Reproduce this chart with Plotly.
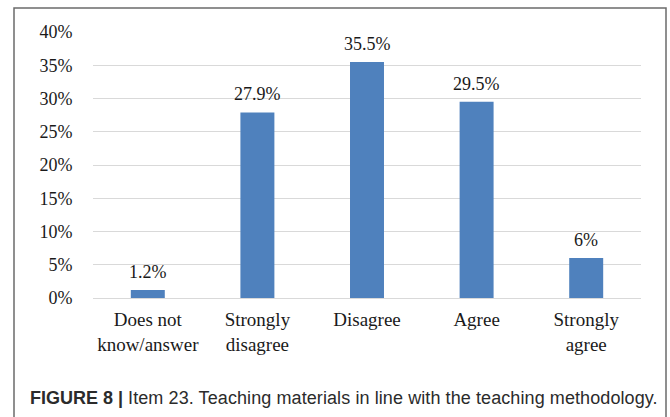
import plotly.graph_objects as go

# Survey responses for item 23
categories = ["Does not<br>know/answer", "Strongly<br>disagree", "Disagree", "Agree", "Strongly<br>agree"]
percentages = [1.2, 27.9, 35.5, 29.5, 6.0]
y_ticks = [0, 5, 10, 15, 20, 25, 30, 35, 40]
y_tick_labels = [f"{t}%" for t in y_ticks]
bar_labels = [f"{v:g}%" for v in percentages]

caption = ("<b>FIGURE 8 |</b> <span style='letter-spacing:0.09px'>Item 23. Teaching materials "
           "in line with the teaching methodology.</span>")

W, H = 670, 417
L, R, T, B = 93, 29, 32, 119
pw, ph = W - L - R, H - T - B


def px_x(x):
    return (x - L) / pw


def px_y(y):
    return (H - B - y) / ph


serif = "Liberation Serif, Times New Roman, serif"
text_color = "#1a1a1a"

fig = go.Figure(
    go.Bar(
        x=categories,
        y=percentages,
        marker=dict(color="#4f81bd", line=dict(width=0)),
        width=0.31,
        cliponaxis=False,
    )
)

# value labels sitting above each bar
value_annotations = [
    dict(
        x=c,
        y=v,
        xref="x",
        yref="y",
        text=t,
        showarrow=False,
        yanchor="bottom",
        yshift=6,
        font=dict(family=serif, size=18, color=text_color),
    )
    for c, v, t in zip(categories, percentages, bar_labels)
]

caption_annotation = dict(
    text=caption,
    xref="paper",
    yref="paper",
    x=px_x(28),
    y=px_y(398),
    xanchor="left",
    yanchor="middle",
    showarrow=False,
    font=dict(family="Liberation Sans, Arial, sans-serif", size=18, color="#2b2b2b"),
)

fig.update_layout(
    width=W,
    height=H,
    margin=dict(l=L, r=R, t=T, b=B),
    paper_bgcolor="white",
    plot_bgcolor="white",
    showlegend=False,
    font=dict(family=serif, size=18, color=text_color),
    xaxis=dict(
        showgrid=False,
        showline=True,
        linecolor="#d9d9d9",
        linewidth=1,
        ticks="outside",
        ticklen=4,
        tickcolor="rgba(0,0,0,0)",
        tickfont=dict(family=serif, size=19, color=text_color),
        fixedrange=True,
    ),
    yaxis=dict(
        range=[0, 40],
        tickvals=y_ticks,
        ticktext=y_tick_labels,
        showgrid=True,
        gridcolor="#d9d9d9",
        gridwidth=1,
        zeroline=False,
        showline=False,
        ticks="outside",
        ticklen=16,
        tickcolor="rgba(0,0,0,0)",
        tickfont=dict(family=serif, size=18, color=text_color),
        fixedrange=True,
    ),
    shapes=[
        # outer figure frame
        dict(
            type="rect",
            xref="paper",
            yref="paper",
            x0=px_x(14),
            x1=px_x(666),
            y0=px_y(430),
            y1=px_y(8),
            line=dict(color="#6b6b6b", width=1.5),
            fillcolor="rgba(0,0,0,0)",
            layer="below",
        )
    ],
    annotations=value_annotations + [caption_annotation],
)

fig.write_html("out.html")
